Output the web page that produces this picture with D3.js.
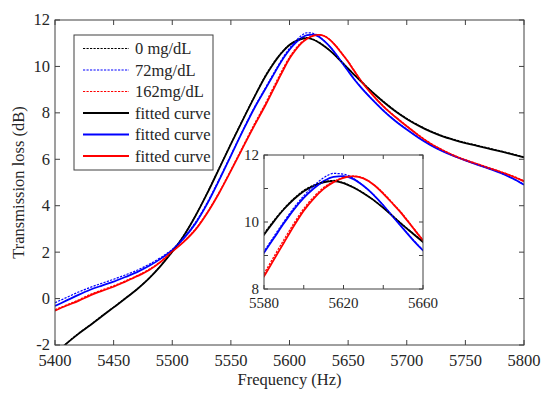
<!DOCTYPE html>
<html lang="en">
<head>
    <meta charset="UTF-8">
    <title>Transmission loss</title>
    <script src="https://d3js.org/d3.v7.min.js"></script>
    <style>
        body{
            margin: 0;
            background: white;
        }
        svg text{
            font-family: "Liberation Serif", "Times New Roman", serif;
            fill: #262626;
        }
        .frame{
            fill: none;
            stroke: #404040;
            stroke-width: 1;
        }
        .tick{
            stroke: #404040;
            stroke-width: 1;
        }
    </style>
</head>
<body>
<svg id="canvas" width="550" height="394"></svg>
<script>
    // frequency grid (Hz)
    let freq = [5400, 5410, 5420, 5430, 5440, 5450, 5460, 5470, 5480, 5490,
        5500, 5510, 5520, 5530, 5540, 5550, 5560, 5570, 5580, 5585,
        5590, 5595, 5600, 5605, 5610, 5615, 5620, 5625, 5630, 5635,
        5640, 5645, 5650, 5655, 5660, 5670, 5680, 5690, 5700, 5710,
        5720, 5730, 5740, 5750, 5760, 5770, 5780, 5790, 5800]

    // fitted curves (dB)
    let fit0 = [-2.4, -1.93, -1.52, -1.15, -0.76, -0.38, 0.0, 0.4, 0.86, 1.4,
        2.02, 2.72, 3.58, 4.55, 5.6, 6.65, 7.68, 8.68, 9.62, 10.02,
        10.38, 10.68, 10.92, 11.08, 11.18, 11.22, 11.16, 11.03, 10.86, 10.66,
        10.42, 10.16, 9.9, 9.65, 9.4, 8.92, 8.48, 8.08, 7.74, 7.45,
        7.2, 7.0, 6.84, 6.7, 6.58, 6.46, 6.34, 6.21, 6.08]
    let fit72 = [-0.32, -0.08, 0.16, 0.38, 0.56, 0.73, 0.93, 1.14, 1.4, 1.71,
        2.09, 2.6, 3.25, 4.1, 5.1, 6.15, 7.2, 8.2, 9.08, 9.52,
        9.96, 10.37, 10.72, 11.0, 11.22, 11.35, 11.37, 11.28, 11.08, 10.82,
        10.5, 10.15, 9.8, 9.46, 9.15, 8.6, 8.1, 7.66, 7.28, 6.93,
        6.62, 6.36, 6.14, 5.95, 5.77, 5.6, 5.41, 5.18, 4.9]
    let fit162 = [-0.52, -0.3, -0.1, 0.14, 0.33, 0.51, 0.73, 0.96, 1.22, 1.57,
        2.02, 2.45, 2.98, 3.7, 4.55, 5.5, 6.48, 7.45, 8.38, 8.88,
        9.38, 9.88, 10.34, 10.7, 10.99, 11.19, 11.32, 11.36, 11.3, 11.12,
        10.85, 10.53, 10.2, 9.82, 9.45, 8.82, 8.28, 7.83, 7.42, 7.03,
        6.68, 6.4, 6.16, 5.96, 5.79, 5.62, 5.45, 5.27, 5.05]

    // measured data (dB)
    let meas0 = [-2.38, -1.92, -1.5, -1.14, -0.74, -0.37, 0.02, 0.41, 0.87, 1.41,
        2.03, 2.73, 3.59, 4.57, 5.62, 6.67, 7.7, 8.7, 9.65, 10.05,
        10.4, 10.7, 10.94, 11.1, 11.2, 11.24, 11.17, 11.04, 10.87, 10.66,
        10.43, 10.17, 9.91, 9.66, 9.42, 8.93, 8.5, 8.1, 7.76, 7.47,
        7.22, 7.02, 6.86, 6.72, 6.6, 6.48, 6.36, 6.23, 6.1]
    let meas72 = [-0.18, 0.05, 0.28, 0.48, 0.66, 0.83, 1.02, 1.22, 1.47, 1.76,
        2.12, 2.64, 3.3, 4.15, 5.14, 6.18, 7.23, 8.23, 9.12, 9.57,
        10.01, 10.42, 10.78, 11.08, 11.32, 11.45, 11.43, 11.3, 11.08, 10.82,
        10.5, 10.15, 9.81, 9.47, 9.16, 8.61, 8.11, 7.67, 7.29, 6.94,
        6.63, 6.37, 6.15, 5.96, 5.78, 5.61, 5.42, 5.19, 4.92]
    let meas162 = [-0.48, -0.27, -0.06, 0.18, 0.37, 0.55, 0.76, 0.99, 1.25, 1.6,
        2.04, 2.47, 3.01, 3.73, 4.58, 5.54, 6.53, 7.52, 8.46, 8.97,
        9.47, 9.96, 10.4, 10.75, 11.03, 11.21, 11.33, 11.37, 11.31, 11.13,
        10.87, 10.55, 10.22, 9.84, 9.46, 8.84, 8.3, 7.85, 7.44, 7.05,
        6.7, 6.42, 6.18, 5.98, 5.81, 5.64, 5.47, 5.29, 5.07]

    let labels = ["0 mg/dL", "72mg/dL", "162mg/dL", "fitted curve", "fitted curve", "fitted curve"]

    let series = [
        {values: meas0, color: "#000000", dashed: true},
        {values: meas72, color: "#0000ff", dashed: true},
        {values: meas162, color: "#ff0000", dashed: true},
        {values: fit0, color: "#000000", dashed: false},
        {values: fit72, color: "#0000ff", dashed: false},
        {values: fit162, color: "#ff0000", dashed: false}
    ]

    let svg = d3.select('svg')

    let margin = {left: 55, right: 26, top: 20, bottom: 49}
    let W = 550, H = 394
    let dash = '2.2,1.3'

    let x = d3.scaleLinear().domain([5400, 5800]).range([margin.left, W - margin.right])
    let y = d3.scaleLinear().domain([-2, 12]).range([H - margin.bottom, margin.top])

    function drawCurves(g, xs, ys, clipId, dashW, solidW){
        g.append('clipPath').attr('id', clipId)
            .append('rect')
            .attr('x', xs.range()[0]).attr('y', ys.range()[1])
            .attr('width', xs.range()[1] - xs.range()[0])
            .attr('height', ys.range()[0] - ys.range()[1])
        let line = d3.line()
            .x(function (d, i){ return xs(freq[i]) })
            .y(function (d){ return ys(d) })
            .curve(d3.curveMonotoneX)
        let order = [3, 4, 5, 0, 1, 2]
        order.forEach(function (k){
            let s = series[k]
            g.append('path')
                .attr('clip-path', 'url(#' + clipId + ')')
                .attr('d', line(s.values))
                .attr('fill', 'none')
                .attr('stroke', s.color)
                .attr('stroke-width', s.dashed ? dashW : solidW)
                .attr('stroke-dasharray', s.dashed ? dash : null)
        })
    }

    function drawFrame(g, xs, ys, xt, yt, xl, yl, fs, tl){
        let x0 = xs.range()[0], x1 = xs.range()[1]
        let y0 = ys.range()[0], y1 = ys.range()[1]
        xt.forEach(function (t){
            g.append('line').attr('class', 'tick')
                .attr('x1', xs(t)).attr('x2', xs(t)).attr('y1', y0).attr('y2', y0 - tl)
            g.append('line').attr('class', 'tick')
                .attr('x1', xs(t)).attr('x2', xs(t)).attr('y1', y1).attr('y2', y1 + tl)
        })
        yt.forEach(function (t){
            g.append('line').attr('class', 'tick')
                .attr('x1', x0).attr('x2', x0 + tl).attr('y1', ys(t)).attr('y2', ys(t))
            g.append('line').attr('class', 'tick')
                .attr('x1', x1).attr('x2', x1 - tl).attr('y1', ys(t)).attr('y2', ys(t))
        })
        g.append('rect').attr('class', 'frame')
            .attr('x', x0).attr('y', y1).attr('width', x1 - x0).attr('height', y0 - y1)
        g.selectAll('text.xl').data(xl).enter().append('text')
            .attr('x', function (d){ return xs(d) })
            .attr('y', y0 + fs * 1.27)
            .attr('text-anchor', 'middle')
            .style('font-size', fs + 'px')
            .text(function (d){ return d })
        g.selectAll('text.yl').data(yl).enter().append('text')
            .attr('x', x0 - 5)
            .attr('y', function (d){ return ys(d) + fs * 0.33 })
            .attr('text-anchor', 'end')
            .style('font-size', fs + 'px')
            .text(function (d){ return d })
    }

    // main chart
    let main = svg.append('g')
    drawCurves(main, x, y, 'clipMain', 1.2, 1.8)
    drawFrame(main, x, y, d3.range(5400, 5801, 50), d3.range(-2, 13, 2),
        d3.range(5400, 5801, 50), d3.range(-2, 13, 2), 16.5, 5)

    main.append('text')
        .attr('x', (x.range()[0] + x.range()[1]) / 2)
        .attr('y', 385)
        .attr('text-anchor', 'middle')
        .style('font-size', '16.5px')
        .text('Frequency (Hz)')
    main.append('text')
        .attr('transform', 'translate(24,' + ((y.range()[0] + y.range()[1]) / 2) + ') rotate(-90)')
        .attr('text-anchor', 'middle')
        .style('font-size', '16.5px')
        .text('Transmission loss (dB)')

    // legend
    let legend = svg.append('g')
    legend.append('rect')
        .attr('x', 74).attr('y', 35).attr('width', 139).attr('height', 135)
        .attr('fill', 'white').attr('stroke', '#404040').attr('stroke-width', 1)
    series.forEach(function (s, i){
        let ly = 48.5 + i * 21.5
        legend.append('line')
            .attr('x1', 83).attr('x2', 129).attr('y1', ly).attr('y2', ly)
            .attr('stroke', s.color)
            .attr('stroke-width', s.dashed ? 1.2 : 1.8)
            .attr('stroke-dasharray', s.dashed ? dash : null)
        legend.append('text')
            .attr('x', 135).attr('y', ly + 5.5)
            .style('font-size', '16.5px')
            .text(labels[i])
    })

    // inset (zoom on the peak)
    let xi = d3.scaleLinear().domain([5580, 5660]).range([264, 423])
    let yi = d3.scaleLinear().domain([8, 12]).range([289, 155])
    let inset = svg.append('g')
    inset.append('rect')
        .attr('x', 264).attr('y', 155).attr('width', 159).attr('height', 134)
        .attr('fill', 'white')
    drawCurves(inset, xi, yi, 'clipInset', 1.2, 1.8)
    drawFrame(inset, xi, yi, d3.range(5580, 5661, 20), d3.range(8, 13, 1),
        [5580, 5620, 5660], [8, 10, 12], 15, 4)
</script>
</body>
</html>
